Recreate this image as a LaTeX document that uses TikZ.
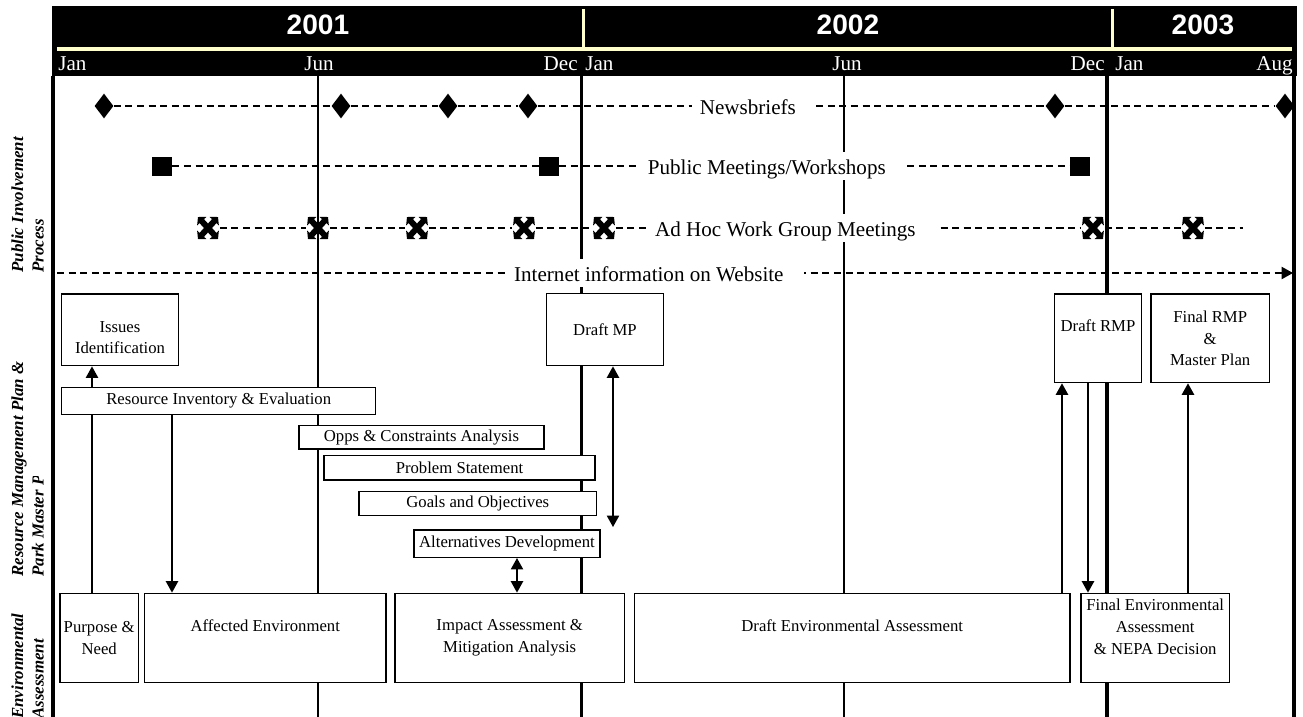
\documentclass[tikz,border=0pt]{standalone}
\usepackage{fontspec}
\setmainfont{Liberation Serif}
\newfontfamily\yearfont{Liberation Sans}
\usetikzlibrary{arrows.meta,shapes.geometric}
\definecolor{lightyellow}{RGB}{255,255,204}
\def\px{0.569055pt}
\def\adhocmark{
\draw[adhocarm] (-10,-11) -- (10,11);
\draw[adhocarm] (-10,11) -- (10,-11);
}
\tikzset{
  >={Triangle[width=7pt,length=6.5pt]},
  monthline/.style={line width=0.7pt},
  yearline/.style={line width=1.9pt},
  frameline/.style={line width=1.8pt},
  dashline/.style={dash pattern=on 4pt off 2.6pt, line width=0.7pt},
  newsmark/.style={diamond, fill=black, minimum width=19*\px, minimum height=25*\px, inner sep=0pt},
  meetmark/.style={rectangle, fill=black, minimum width=20*\px, minimum height=19*\px, inner sep=0pt},
  adhoc/.style={rectangle, minimum width=23*\px, minimum height=25*\px, inner sep=0pt},
  adhocarm/.style={line width=3.4pt, {Triangle[width=7pt,length=3.2pt]}-{Triangle[width=7pt,length=3.2pt]}},
  rowlabel/.style={fill=white, inner xsep=4.5pt, inner ysep=3pt, text height=10.3pt, text depth=0.2pt,
    font=\fontsize{12}{14}\selectfont, execute at end node=\hspace{7pt}},
  month/.style={text=white, inner sep=0pt, font=\fontsize{12}{14}\selectfont},
  year/.style={text=white, inner sep=0pt, font=\yearfont\bfseries\fontsize{16}{19}\selectfont},
  side/.style={rotate=90, anchor=north west, align=left, inner sep=0pt,
    font=\fontsize{9.6}{11.7}\selectfont\bfseries\itshape},
  box/.style={draw, line width=0.8pt, fill=white, align=center, inner sep=1pt,
    font=\fontsize{9.5}{12.4}\selectfont},
  boxsize/.style 2 args={minimum width=#1*\px, minimum height=#2*\px},
  textpos/.style 2 args={text height=#1, text depth=#2},
  link/.style={line width=0.8pt}
}
\begin{document}
\begin{tikzpicture}[x=0.02cm,y=-0.02cm]
\useasboundingbox (0,0) rectangle (1303,717);
% time grid
\draw[monthline] (318,76) -- (318,717);
\draw[monthline] (844,76) -- (844,717);
\draw[yearline] (581.5,76) -- (581.5,717);
\draw[yearline] (1107,76) -- (1107,717);
\draw[frameline] (53,76) -- (53,717);
\draw[frameline] (1294,76) -- (1294,717);
% header
\fill (52,6) rectangle (1297,76);
\draw[lightyellow, line width=4*\px] (57,49) -- (1292,49);
\draw[lightyellow, line width=3*\px] (583,9) -- (583,49);
\draw[lightyellow, line width=3*\px] (1112,9) -- (1112,49);
\node[year, anchor=base] (y2001) at (318,34) {2001};
\node[year, anchor=base] (y2002) at (848,34) {2002};
\node[year, anchor=base] (y2003) at (1203,34) {2003};
\node[month, anchor=base west] (jan1) at (58,70) {Jan};
\node[month, anchor=base] (jun1) at (319,70) {Jun};
\node[month, anchor=base east] (dec1) at (578,70) {Dec};
\node[month, anchor=base west] (jan2) at (585,70) {Jan};
\node[month, anchor=base] (jun2) at (847,70) {Jun};
\node[month, anchor=base east] (dec2) at (1105,70) {Dec};
\node[month, anchor=base west] (jan3) at (1115,70) {Jan};
\node[month, anchor=base east] (aug3) at (1293,70) {Aug};
% public involvement rows
\foreach \x [count=\i] in {104,341,448,528,1055,1285}
  \node[newsmark] (nb\i) at (\x,106) {};
\draw[dashline] (nb1) -- (nb2) -- (nb3) -- (nb4) -- (nb5) -- (nb6);
\node[rowlabel] (news) at (754,106) {Newsbriefs};

\foreach \x [count=\i] in {162,549,1080}
  \node[meetmark] (pm\i) at (\x,166) {};
\draw[dashline] (pm1) -- (pm2) -- (pm3);
\node[rowlabel] (meet) at (773,166) {Public Meetings/Workshops};

\foreach \x [count=\i] in {208,318,417,524,604,1093,1193}
  \node[adhoc] (ah\i) at (\x,228) {};
\coordinate (ahend) at (1243,228);
\draw[dashline] (ah1) -- (ah2) -- (ah3) -- (ah4) -- (ah5) -- (ah6) -- (ah7) -- (ahend);
\node[rowlabel] (adhocmeet) at (791.5,228) {Ad Hoc Work Group Meetings};
\foreach \i in {1,...,7}{
  \begin{scope}[shift={(ah\i)}]
  \adhocmark
  \end{scope}
}

\coordinate (netstart) at (57,273);
\coordinate (netend) at (1293,273);
\draw[dashline,->] (netstart) -- (netend);
\node[rowlabel] (web) at (655,273) {Internet information on Website};
% row titles
\node[side] (pip) at (11,273) {Public Involvement\\Process};
\begin{scope}
\clip (0,76) -- (30,76) -- (30,476) -- (43,476) -- (43,717) -- (0,717) -- cycle;
\node[side] (rmp) at (11,577) {Resource Management Plan \&\\Park Master Plan};
\end{scope}
\node[side] (ea) at (11,719) {Environmental\\Assessment};
% plan boxes
\node[box, boxsize={116.6}{71.7}, textpos={33.1pt}{5.7pt}] (issues) at (120,329.9) {Issues\\Identification};
\node[box, boxsize={116.6}{72.4}] (draftmp) at (605,329.5) {Draft MP};
\node[box, boxsize={87.4}{88.7}, textpos={20.6pt}{27.85pt}] (draftrmp) at (1098,338.3) {Draft RMP};
\node[box, boxsize={118.3}{88.7}] (finalrmp) at (1210.2,338.3) {Final RMP\\\&\\Master Plan};
\node[box, boxsize={314}{27.4}] (resinv) at (218.7,401) {Resource Inventory \& Evaluation};
\node[box, boxsize={245}{23.3}] (opps) at (421.5,437.3) {Opps \& Constraints Analysis};
\node[box, boxsize={271}{24.3}] (problem) at (459.5,467.8) {Problem Statement};
\node[box, boxsize={237.7}{24}] (goals) at (477.8,503.7) {Goals and Objectives};
\node[box, boxsize={186}{27.3}] (altdev) at (507,543.7) {Alternatives Development};
% assessment boxes
\node[box, boxsize={78.3}{89}] (purpose) at (99.2,637.8) {Purpose \&\\Need};
\node[box, boxsize={241.7}{89}, textpos={21pt}{27.63pt}] (affected) at (265.2,637.8) {Affected Environment};
\node[box, boxsize={229.3}{89}] (impact) at (509.7,637.8) {Impact Assessment \&\\Mitigation Analysis};
\node[box, boxsize={435.7}{89}, textpos={21pt}{27.63pt}] (drafted) at (852.2,637.8) {Draft Environmental Assessment};
\node[box, boxsize={148.3}{89}, textpos={33.7pt}{14.95pt}] (finalea) at (1155.2,637.8) {Final Environmental\\Assessment\\\& NEPA Decision};
% links
\coordinate (c1) at (92,0);
\coordinate (c2) at (172,0);
\coordinate (c3) at (613,527);
\coordinate (c4) at (517,0);
\coordinate (c5) at (1062,0);
\coordinate (c6) at (1088,0);
\coordinate (c7) at (1188,0);
\draw[link] (purpose.north -| c1) -- (resinv.south -| c1);
\draw[link,->] (resinv.north -| c1) -- (issues.south -| c1);
\draw[link,->] (resinv.south -| c2) -- (affected.north -| c2);
\draw[link,<->] (draftmp.south -| c3) -- (c3);
\draw[link,<->] (altdev.south -| c4) -- (impact.north -| c4);
\draw[link,->] (drafted.north -| c5) -- (draftrmp.south -| c5);
\draw[link,->] (draftrmp.south -| c6) -- (finalea.north -| c6);
\draw[link,->] (finalea.north -| c7) -- (finalrmp.south -| c7);
\end{tikzpicture}
\end{document}
